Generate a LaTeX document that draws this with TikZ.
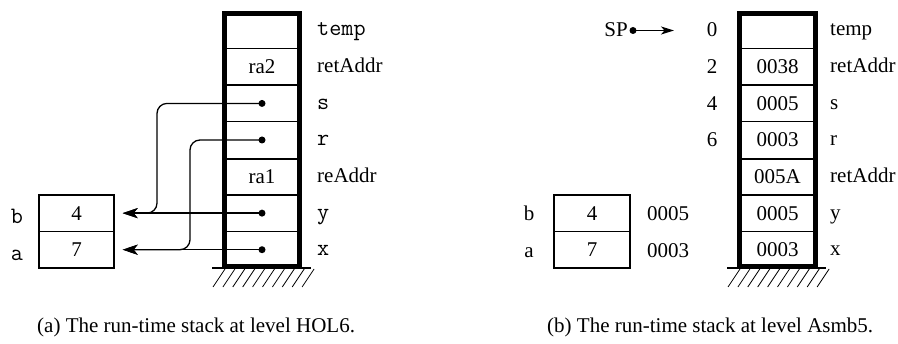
\documentclass[tikz,border=0pt]{standalone}
\usepackage{fontspec}
\setmainfont{Liberation Serif}
\usetikzlibrary{arrows.meta}
\newcommand\cour{\fontsize{23.5}{26}\selectfont\ttfamily}
\begin{document}
\begin{tikzpicture}[x=1pt,y=-1pt,
  font=\fontsize{21}{25}\selectfont,
  thin line/.style={line width=1.3pt},
  lcell/.style={draw, thin line, minimum width=78pt, minimum height=36.57pt, inner sep=0pt},
  rcell/.style={draw, thin line, minimum width=79pt, minimum height=36.57pt, inner sep=0pt},
  lbox/.style={draw, thin line, minimum width=75pt, minimum height=36.57pt, inner sep=0pt},
  rbox/.style={draw, thin line, minimum width=76pt, minimum height=36.57pt, inner sep=0pt},
  lbl/.style={anchor=base west, inner sep=0pt},
  clbl/.style={anchor=base, inner sep=0pt},
  dot/.style={circle, fill=black, inner sep=0pt, minimum size=7pt},
  frame/.style={draw, line width=4pt},
  ptr/.style={thin line, -{Stealth[length=15pt,width=10pt,inset=4pt]}, shorten >=8pt, rounded corners=10pt},
  spptr/.style={thin line, -{Stealth[length=13pt,width=8pt,inset=3.5pt]}},
  ground/.style={line width=1.3pt},
  hatch/.style={line width=0.8pt},
  caption/.style={anchor=base west, inner sep=0pt}
]
\useasboundingbox (0,0) rectangle (898,344);

% ---------- (a) left panel ----------
\node[lcell] (L1) at (262,30.29) {};
\node[lcell] (L2) at (262,66.86) {ra2};
\node[lcell] (L3) at (262,103.43) {};
\node[lcell] (L4) at (262,140.00) {};
\node[lcell] (L5) at (262,176.57) {ra1};
\node[lcell] (L6) at (262,213.14) {};
\node[lcell] (L7) at (262,249.71) {};
\draw[line width=2.5pt] (L4.south west) -- (L4.south east);
\draw[frame] (225,14) rectangle (299,266);

\node[lbl] (lt1) at (317,36) {\cour temp};
\node[lbl] (lt2) at (317,73) {retAddr};
\node[lbl] (lt3) at (317,109.5) {\cour s};
\node[lbl] (lt4) at (317,146) {\cour r};
\node[lbl] (lt5) at (317,183) {reAddr};
\node[lbl] (lt6) at (317,219.5) {\cour y};
\node[lbl] (lt7) at (317,256) {\cour x};

\node[lbox] (boxb) at (76.5,213.14) {4};
\node[lbox] (boxa) at (76.5,249.71) {7};
\node[clbl] (lb) at (17,224) {\cour b};
\node[clbl] (la) at (17,261) {\cour a};

\node[dot] (ds) at (262,103.43) {};
\node[dot] (dr) at (262,140.00) {};
\node[dot] (dy) at (262,213.14) {};
\node[dot] (dx) at (262,249.71) {};
\coordinate (vs) at (157,0);
\coordinate (vr) at (190,0);

\draw[ptr] (ds.center) -| (vs |- boxb.east) -- (boxb.east);
\draw[ptr] (dr.center) -| (vr |- boxa.east) -- (boxa.east);
\draw[ptr] (dy.center) -- (boxb.east);
\draw[ptr] (dx.center) -- (boxa.east);

\draw[ground] (212,268) -- (311,268);
\foreach \i in {0,...,9} {
  \draw[hatch] (213+9.9*\i,287) -- (225+9.9*\i,269);
}

\node[caption] (capa) at (37,333) {(a) The run-time stack at level HOL6.};

% ---------- (b) right panel ----------
\node[rcell] (R1) at (777.5,30.29) {};
\node[rcell] (R2) at (777.5,66.86) {0038};
\node[rcell] (R3) at (777.5,103.43) {0005};
\node[rcell] (R4) at (777.5,140.00) {0003};
\node[rcell] (R5) at (777.5,176.57) {005A};
\node[rcell] (R6) at (777.5,213.14) {0005};
\node[rcell] (R7) at (777.5,249.71) {0003};
\draw[line width=2.5pt] (R4.south west) -- (R4.south east);
\draw[frame] (740,14) rectangle (815,266);

\node[lbl] (rt1) at (830,36) {temp};
\node[lbl] (rt2) at (830,73) {retAddr};
\node[lbl] (rt3) at (830,109.5) {s};
\node[lbl] (rt4) at (830,146) {r};
\node[lbl] (rt5) at (830,183) {retAddr};
\node[lbl] (rt6) at (830,219.5) {y};
\node[lbl] (rt7) at (830,256) {x};

\node[clbl] (n0) at (712,37) {0};
\node[clbl] (n2) at (712,74) {2};
\node[clbl] (n4) at (712,110.5) {4};
\node[clbl] (n6) at (712,147) {6};

\node[anchor=base east, inner sep=0pt] (sp) at (628,37) {SP};
\node[dot] (spdot) at (633,30.5) {};
\coordinate (sptip) at (674,30.5);
\draw[spptr] (spdot.center) -- (sptip);

\node[rbox] (rboxb) at (592,213.14) {4};
\node[rbox] (rboxa) at (592,249.71) {7};
\node[clbl] (rb) at (529,221) {b};
\node[clbl] (ra) at (529,258) {a};
\node[clbl] (rv5) at (668,221) {0005};
\node[clbl] (rv3) at (668,258) {0003};

\draw[ground] (727,268) -- (826,268);
\foreach \i in {0,...,9} {
  \draw[hatch] (728+9.9*\i,287) -- (740+9.9*\i,269);
}

\node[caption] (capb) at (547,333) {(b) The run-time stack at level Asmb5.};
\end{tikzpicture}
\end{document}
